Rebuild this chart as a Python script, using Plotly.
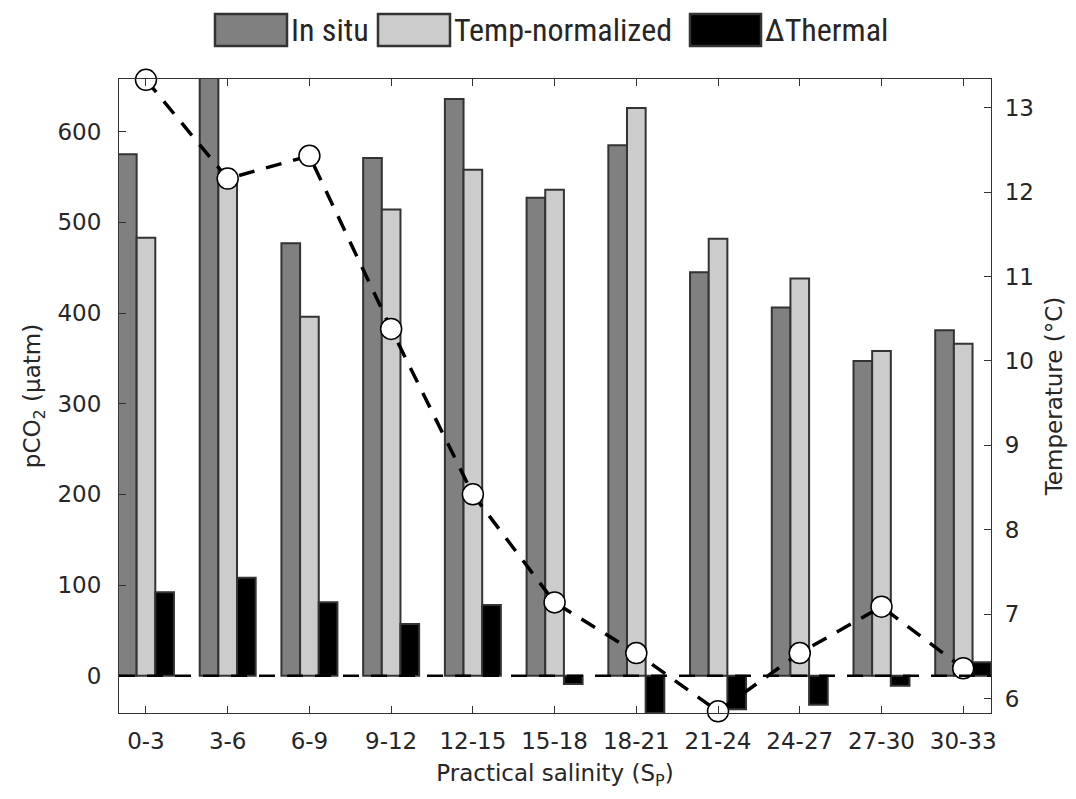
import plotly.graph_objects as go

categories = ["0-3", "3-6", "6-9", "9-12", "12-15", "15-18", "18-21", "21-24", "24-27", "27-30", "30-33"]
in_situ = [575, 660, 477, 571, 636, 527, 585, 445, 406, 347, 381]
temp_norm = [483, 552, 396, 514, 558, 536, 626, 482, 438, 358, 366]
delta_thermal = [92, 108, 81, 57, 78, -9, -41, -37, -32, -11, 15]
temperature = [13.33, 12.16, 12.43, 10.38, 8.42, 7.14, 6.54, 5.85, 6.54, 7.09, 6.36]

FONT = "DejaVu Sans"
TXT = "#262626"
EDGE = "#333333"

x = list(range(len(categories)))

# page body has an 8px margin; figure sized so plot area lands at x 119-991, y 79-713
W, H = 1068, 791
ML, MR, MT, MB = 111, 85, 71, 86

fig = go.Figure()
fig.add_trace(go.Bar(x=x, y=in_situ, name="In situ", marker=dict(color="#808080", line=dict(color=EDGE, width=2))))
fig.add_trace(go.Bar(x=x, y=temp_norm, name="Temp-normalized", marker=dict(color="#cccccc", line=dict(color=EDGE, width=2))))
fig.add_trace(go.Bar(x=x, y=delta_thermal, name="ΔThermal", marker=dict(color="#000000", line=dict(color=EDGE, width=2))))
fig.add_trace(go.Scatter(x=x, y=temperature, yaxis="y2", mode="lines+markers", cliponaxis=False,
                         line=dict(color="black", width=3.5, dash="16px,12px"),
                         marker=dict(size=21, color="white", line=dict(color="black", width=1.5)),
                         showlegend=False))

axis_font = dict(family=FONT, size=23, color=TXT)
title_font = dict(family=FONT, size=23, color=TXT)
fig.update_layout(
    width=W, height=H,
    margin=dict(l=ML, r=MR, t=MT, b=MB),
    plot_bgcolor="white", paper_bgcolor="white",
    barmode="group", bargap=0.315, bargroupgap=0,
    showlegend=False,
    font=axis_font,
    xaxis=dict(range=[-0.33, 10.34], tickmode="array", tickvals=x, ticktext=categories, tickfont=axis_font,
               ticks="inside", ticklen=7, tickcolor=EDGE, showline=True, linecolor=EDGE, linewidth=1.2,
               mirror="ticks", showgrid=False, zeroline=False, ticklabelstandoff=7,
               title=dict(text="Practical salinity (S<sub>P</sub>)", font=title_font, standoff=12)),
    yaxis=dict(range=[-41, 658], tickvals=[0, 100, 200, 300, 400, 500, 600], tickfont=axis_font,
               ticks="inside", ticklen=7, tickcolor=EDGE, showline=True, linecolor=EDGE, linewidth=1.2,
               showgrid=False, zeroline=False, ticklabelstandoff=12,
               title=dict(text="pCO<sub>2</sub> (µatm)", font=title_font, standoff=10)),
    yaxis2=dict(range=[5.83, 13.34], overlaying="y", side="right", tickvals=[6, 7, 8, 9, 10, 11, 12, 13],
                tickfont=axis_font,
                ticks="inside", ticklen=7, tickcolor=EDGE, showline=True, linecolor=EDGE, linewidth=1.2,
                showgrid=False, zeroline=False, ticklabelstandoff=8,
                title=dict(text="Temperature (°C)", font=title_font, standoff=12)),
)

# zero reference line
fig.add_shape(type="line", xref="paper", yref="y", x0=0, x1=1, y0=0, y1=0, layer="above",
              line=dict(color="black", width=2.5, dash="16px,12px"))

# custom legend (top, outside plot); pixel positions are window coords
legend_items = [("In situ", "#808080", 215, 287), ("Temp-normalized", "#cccccc", 378, 450), ("ΔThermal", "#000000", 690, 761)]
pw = W - ML - MR
ph = H - MT - MB
def px2paper_x(px):
    return (px - 8 - ML) / pw
def py2paper_y(py):
    return (H - MB - (py - 8)) / ph
for name, col, x0p, x1p in legend_items:
    fig.add_shape(type="rect", xref="paper", yref="paper",
                  x0=px2paper_x(x0p), x1=px2paper_x(x1p), y0=py2paper_y(46), y1=py2paper_y(14),
                  fillcolor=col, line=dict(color=EDGE, width=2.5))
    fig.add_annotation(xref="paper", yref="paper", x=px2paper_x(x1p + 2), y=py2paper_y(30),
                       text=name, showarrow=False, xanchor="left", yanchor="middle",
                       font=dict(family="Liberation Sans Narrow, Roboto Condensed, Lato", size=32, color=TXT))

fig.write_html("out.html")
